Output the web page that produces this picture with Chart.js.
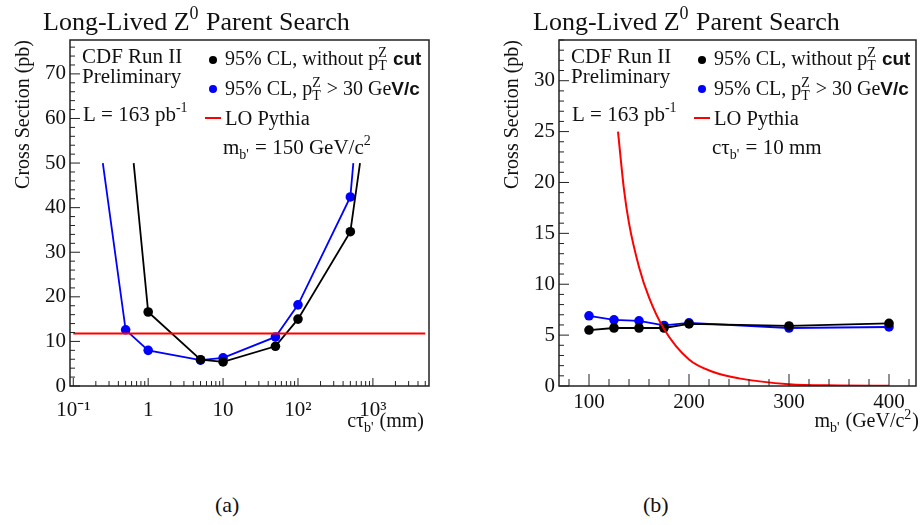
<!DOCTYPE html>
<html>
<head>
<meta charset="utf-8">
<script src="https://cdn.jsdelivr.net/npm/chart.js@4.4.0/dist/chart.umd.min.js"></script>
<style>
  body { margin: 0; background: #fff; width: 922px; height: 525px; position: relative; overflow: hidden; }
  canvas { position: absolute; top: 0; }
  #chartA { left: 0; }
  #chartB { left: 460px; }
  .cap { position: absolute; top: 492px; font: 22px "Liberation Serif", serif; color: #111; }
</style>
</head>
<body>
<canvas id="chartA" width="460" height="440"></canvas>
<canvas id="chartB" width="462" height="440"></canvas>
<div class="cap" style="left:215px">(a)</div>
<div class="cap" style="left:643px">(b)</div>
<script>
// (a) limit vs c*tau, m_b' = 150 GeV/c^2  (first/last points are where the graph leaves the top)
const ctauBlack = [0.64, 1, 5, 10, 50, 100, 500, 673];
const xsecBlackA = [50, 16.6, 5.9, 5.4, 8.9, 15.0, 34.6, 50];
const ctauBlue = [0.248, 0.5, 1, 5, 10, 50, 100, 500, 548];
const xsecBlueA = [50, 12.6, 8.0, 5.8, 6.3, 11.0, 18.2, 42.4, 50];
const ctauPythia = [0.1, 5000];
const xsecPythiaA = [11.8, 11.8];
const ctauTicks = [0.1, 1, 10, 100, 1000];
const ctauLabels = ['10⁻¹', '1', '10', '10²', '10³'];
const xsecTicksA = [0, 10, 20, 30, 40, 50, 60, 70];

// (b) limit vs m_b', c*tau = 10 mm
const massPts = [100, 125, 150, 175, 200, 300, 400];
const xsecBlackB = [5.5, 5.7, 5.7, 5.7, 6.1, 5.9, 6.15];
const xsecBlueB = [6.9, 6.5, 6.4, 5.95, 6.2, 5.7, 5.8];
const massPythia = [129, 135, 140, 150, 160, 175, 200, 225, 250, 300, 350, 400];
const xsecPythiaB = [25, 19.3, 16.0, 11.7, 8.7, 5.6, 2.6, 1.35, 0.75, 0.18, 0.06, 0.02];
const massTicks = [100, 200, 300, 400];
const xsecTicksB = [0, 5, 10, 15, 20, 25, 30];

const SERIF = '"Liberation Serif", serif';
const SANS = '"Liberation Sans", sans-serif';

function pts(xs, ys) {
  return xs.map((x, i) => ({ x: x, y: ys[i] }));
}

// draw text with sub/superscripts; parts are strings or {t,b} / {sub,sup}
function drawRich(ctx, x, y, parts, size, alignRight) {
  const small = Math.round(size * 0.68);
  const items = parts.map(p => typeof p === 'string' ? { t: p } : p);
  const setFont = (p, s) => { ctx.font = (p.b ? 'bold ' + Math.round(s * 0.95) + 'px ' + SANS : s + 'px ' + SERIF); };
  const widthOf = p => {
    if (p.t !== undefined) { setFont(p, size); return ctx.measureText(p.t).width; }
    setFont(p, small);
    return Math.max(p.sub ? ctx.measureText(p.sub).width : 0, p.sup ? ctx.measureText(p.sup).width : 0) + 1;
  };
  let total = 0;
  items.forEach(p => { total += widthOf(p); });
  let cx = alignRight ? x - total : x;
  ctx.textAlign = 'left';
  ctx.textBaseline = 'alphabetic';
  items.forEach(p => {
    const w = widthOf(p);
    if (p.t !== undefined) {
      ctx.fillText(p.t, cx, y);
    } else {
      if (p.sup) ctx.fillText(p.sup, cx, y - size * 0.42);
      if (p.sub) ctx.fillText(p.sub, cx, y + size * 0.24);
    }
    cx += w;
  });
}

// ROOT-like frame, inward ticks, title and legend
const decor = {
  id: 'decor',
  afterDraw(chart, args, o) {
    const ctx = chart.ctx;
    const a = chart.chartArea;
    const xs = chart.scales.x, ys = chart.scales.y;
    ctx.save();
    ctx.strokeStyle = '#222';
    ctx.lineWidth = 1;
    ctx.beginPath();
    o.xMajor.forEach(v => { const p = xs.getPixelForValue(v); ctx.moveTo(p, a.bottom); ctx.lineTo(p, a.bottom - o.xMajLen); });
    o.xMinor.forEach(v => { const p = xs.getPixelForValue(v); ctx.moveTo(p, a.bottom); ctx.lineTo(p, a.bottom - o.xMinLen); });
    o.yMajor.forEach(v => { const p = ys.getPixelForValue(v); ctx.moveTo(a.left, p); ctx.lineTo(a.left + 10, p); });
    o.yMinor.forEach(v => { const p = ys.getPixelForValue(v); ctx.moveTo(a.left, p); ctx.lineTo(a.left + 5, p); });
    ctx.stroke();
    ctx.lineWidth = 1.5;
    ctx.strokeRect(a.left, a.top, a.right - a.left, a.bottom - a.top);

    ctx.fillStyle = '#111';
    drawRich(ctx, o.titleX, 30, ['Long-Lived Z', { sup: '0' }, ' Parent Search'], 26);

    const ix = a.left + 12;
    drawRich(ctx, ix, 63, ['CDF Run II'], 21);
    drawRich(ctx, ix, 83, ['Preliminary'], 21);
    drawRich(ctx, ix + 1, 121, ['L = 163 pb', { sup: '-1' }], 21);

    const mx = a.left + 143, tx = a.left + 155;
    ctx.fillStyle = '#000';
    ctx.beginPath(); ctx.arc(mx, 60, 4, 0, Math.PI * 2); ctx.fill();
    ctx.fillStyle = '#0000ff';
    ctx.beginPath(); ctx.arc(mx, 89, 4, 0, Math.PI * 2); ctx.fill();
    ctx.strokeStyle = '#ff0000'; ctx.lineWidth = 2;
    ctx.beginPath(); ctx.moveTo(mx - 8, 118); ctx.lineTo(mx + 8, 118); ctx.stroke();

    ctx.fillStyle = '#111';
    drawRich(ctx, tx, 65, ['95% CL, without p', { sub: 'T', sup: 'Z' }, ' ', { t: 'cut', b: true }], 20);
    drawRich(ctx, tx, 95, ['95% CL, p', { sub: 'T', sup: 'Z' }, ' > 30 Ge', { t: 'V/c', b: true }], 20);
    drawRich(ctx, tx, 125, ['LO Pythia'], 20.5);
    drawRich(ctx, tx - 2, 154, o.note, 21);

    drawRich(ctx, o.xTitleRight, 427, o.xTitle, 20, true);
    ctx.restore();
  }
};

function yScale(max, ticks) {
  return {
    min: 0, max: max,
    afterBuildTicks: s => { s.ticks = ticks.map(v => ({ value: v })); },
    afterFit: s => { s.width = 70; },
    grid: { display: false, drawTicks: false },
    border: { display: false },
    ticks: { padding: 4, color: '#111', font: { family: SERIF, size: 21 } },
    title: {
      display: true, text: 'Cross Section (pb)', align: 'end', color: '#111',
      padding: { top: 12, bottom: 0 }, font: { family: SERIF, size: 20 }
    }
  };
}

// chart (a)
const minorA = [];
[0.1, 1, 10, 100, 1000].forEach(d => { for (let k = 2; k <= 9; k++) if (d * k < 5600) minorA.push(d * k); });
const minorYA = [];
for (let v = 0; v <= 76; v += 2) if (v % 10) minorYA.push(v);

new Chart(document.getElementById('chartA'), {
  type: 'scatter',
  data: {
    datasets: [
      { data: pts(ctauPythia, xsecPythiaA), showLine: true, borderColor: '#ff0000', borderWidth: 2, pointRadius: 0 },
      { data: pts(ctauBlack, xsecBlackA), showLine: true, borderColor: '#000', backgroundColor: '#000', borderWidth: 1.8,
        pointRadius: c => (c.raw && c.raw.y >= 50 ? 0 : 4.8), pointBorderWidth: 0 },
      { data: pts(ctauBlue, xsecBlueA), showLine: true, borderColor: '#0000ff', backgroundColor: '#0000ff', borderWidth: 1.8,
        pointRadius: c => (c.raw && c.raw.y >= 50 ? 0 : 4.8), pointBorderWidth: 0 }
    ]
  },
  options: {
    responsive: false,
    animation: false,
    layout: { padding: { left: 0, top: 40, right: 31, bottom: 0 } },
    plugins: {
      legend: { display: false },
      tooltip: { enabled: false },
      decor: {
        xMajor: ctauTicks, xMinor: minorA, xMajLen: 8, xMinLen: 5,
        yMajor: xsecTicksA, yMinor: minorYA,
        titleX: 43,
        note: ['m', { sub: "b'" }, ' = 150 GeV/c', { sup: '2' }],
        xTitle: ['cτ', { sub: "b'" }, ' (mm)'], xTitleRight: 424
      }
    },
    scales: {
      x: {
        type: 'logarithmic', min: 0.0904, max: 5610,
        afterBuildTicks: s => { s.ticks = ctauTicks.map(v => ({ value: v })); },
        afterFit: s => { s.height = 54; },
        grid: { display: false, drawTicks: false },
        border: { display: false },
        ticks: {
          autoSkip: false, maxRotation: 0, padding: 12, color: '#111', font: { family: SERIF, size: 21 },
          callback: (v, i) => ctauLabels[i]
        }
      },
      y: yScale(77.6, xsecTicksA)
    }
  },
  plugins: [decor]
});

// chart (b)
const minorB = [];
for (let v = 80; v <= 420; v += 20) if (v % 100) minorB.push(v);
const minorYB = [];
for (let v = 0; v <= 34; v += 1) if (v % 5) minorYB.push(v);

new Chart(document.getElementById('chartB'), {
  type: 'scatter',
  data: {
    datasets: [
      { data: pts(massPythia, xsecPythiaB), showLine: true, borderColor: '#ff0000', borderWidth: 2, pointRadius: 0,
        cubicInterpolationMode: 'monotone' },
      { data: pts(massPts, xsecBlackB), showLine: true, borderColor: '#000', backgroundColor: '#000', borderWidth: 1.8,
        pointRadius: 4.8, pointBorderWidth: 0 },
      { data: pts(massPts, xsecBlueB), showLine: true, borderColor: '#0000ff', backgroundColor: '#0000ff', borderWidth: 1.8,
        pointRadius: 4.8, pointBorderWidth: 0 }
    ]
  },
  options: {
    responsive: false,
    animation: false,
    layout: { padding: { left: 29, top: 40, right: 6, bottom: 0 } },
    plugins: {
      legend: { display: false },
      tooltip: { enabled: false },
      decor: {
        xMajor: massTicks, xMinor: minorB, xMajLen: 12, xMinLen: 7,
        yMajor: xsecTicksB, yMinor: minorYB,
        titleX: 73,
        note: ['cτ', { sub: "b'" }, ' = 10 mm'],
        xTitle: ['m', { sub: "b'" }, ' (GeV/c', { sup: '2' }, ')'], xTitleRight: 459
      }
    },
    scales: {
      x: {
        type: 'linear', min: 70, max: 427,
        afterBuildTicks: s => { s.ticks = massTicks.map(v => ({ value: v })); },
        afterFit: s => { s.height = 54; },
        grid: { display: false, drawTicks: false },
        border: { display: false },
        ticks: { autoSkip: false, maxRotation: 0, padding: 4, color: '#111', font: { family: SERIF, size: 21 } }
      },
      y: yScale(34, xsecTicksB)
    }
  },
  plugins: [decor]
});
</script>
</body>
</html>
